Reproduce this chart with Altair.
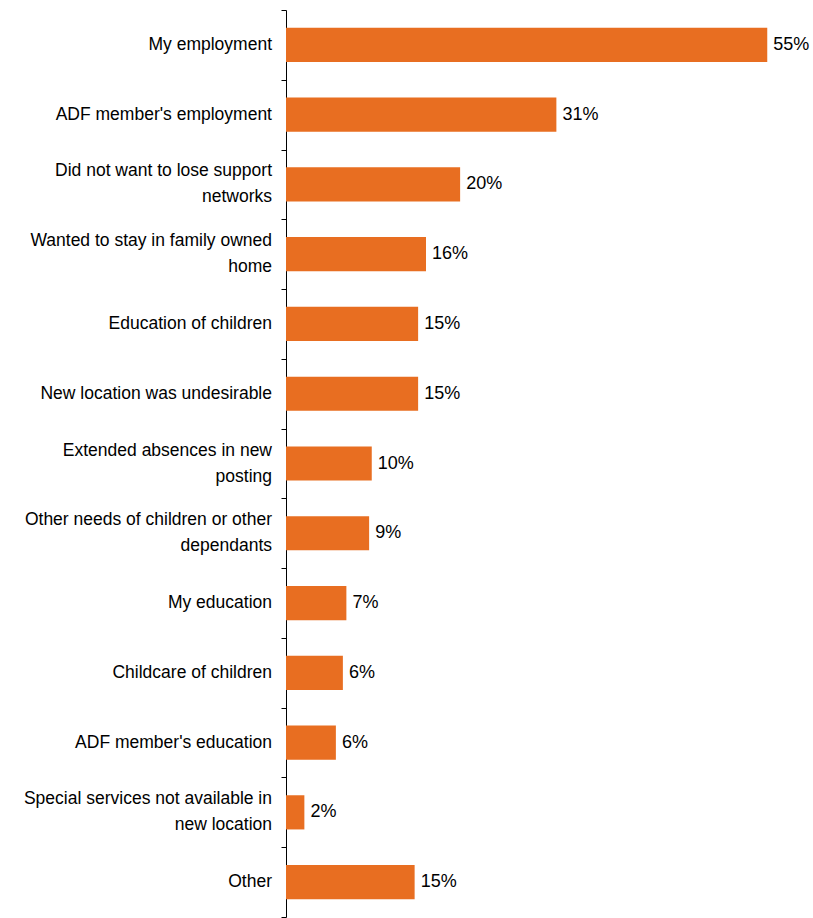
import altair as alt
import pandas as pd

categories = [
    "My employment",
    "ADF member's employment",
    "Did not want to lose support|networks",
    "Wanted to stay in family owned|home",
    "Education of children",
    "New location was undesirable",
    "Extended absences in new|posting",
    "Other needs of children or other|dependants",
    "My education",
    "Childcare of children",
    "ADF member's education",
    "Special services not available in|new location",
    "Other",
]
values = [55.0, 30.9, 19.9, 16.0, 15.1, 15.1, 9.8, 9.5, 6.9, 6.5, 5.7, 2.1, 14.7]
value_labels = ["55%", "31%", "20%", "16%", "15%", "15%", "10%", "9%", "7%", "6%", "6%", "2%", "15%"]

df = pd.DataFrame({"cat": categories, "val": values, "lab": value_labels})

FONT = "Liberation Sans"
ORANGE = "#E86E21"

y_enc = alt.Y(
    "cat:N",
    sort=categories,
    scale=alt.Scale(paddingInner=0, paddingOuter=0),
    axis=alt.Axis(
        title=None,
        labels=False,
        tickSize=5,
        tickColor="#000000",
        domainColor="#000000",
        tickBand="extent",
        grid=False,
    ),
)
x_enc = alt.X("val:Q", scale=alt.Scale(domain=[0, 60], nice=False), axis=None)

base = alt.Chart(df)

bars = base.mark_bar(
    color=ORANGE, height=alt.RelativeBandSize(0.49)
).encode(x=x_enc, y=y_enc)

texts = base.mark_text(
    align="left", baseline="middle", dx=6, font=FONT, fontSize=18, color="#000000"
).encode(x=x_enc, y=y_enc, text="lab:N")

label_style = dict(
    align="right", baseline="middle", font=FONT, fontSize=17.5,
    color="#000000", lineBreak="|", lineHeight=26,
)
labels_one = base.transform_filter(
    "indexof(datum.cat, '|') < 0"
).mark_text(**label_style).encode(x=alt.value(-14), y=y_enc, text="cat:N")
labels_two = base.transform_filter(
    "indexof(datum.cat, '|') >= 0"
).mark_text(dy=-13, **label_style).encode(x=alt.value(-14), y=y_enc, text="cat:N")

chart = (
    alt.layer(bars, texts, labels_one, labels_two)
    .properties(
        width=525,
        height=907,
        background="white",
        autosize=alt.AutoSizeParams(type="none"),
        padding={"left": 286, "top": 10, "right": 2, "bottom": 1},
    )
    .configure_view(stroke=None)
)

chart.save("out.html", embed_options={"renderer": "svg", "actions": False})
